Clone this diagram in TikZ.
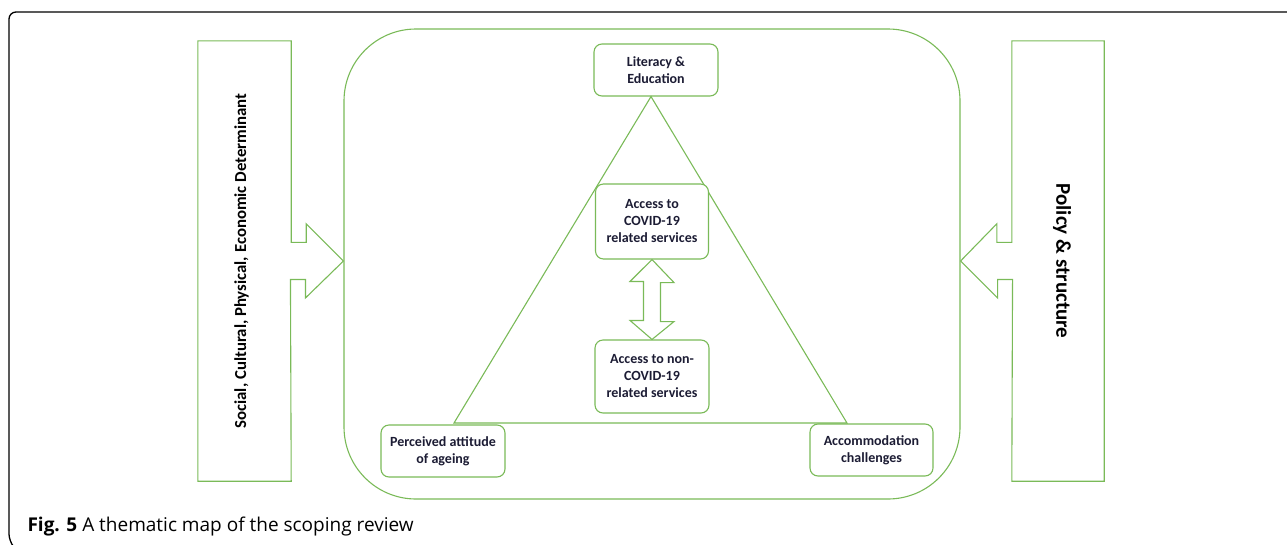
\documentclass[tikz,border=0pt]{standalone}
\usepackage{fontspec}
\setmainfont{Carlito}
\newfontfamily\captionfont{Open Sans}
\definecolor{mapgreen}{RGB}{122,186,88}
\definecolor{labelnavy}{RGB}{28,28,52}

\begin{document}
\begin{tikzpicture}[
  x=1pt, y=-1pt, % pixel grid, y grows downwards
  every node/.style={text=labelnavy, font=\bfseries\fontsize{14}{17}\selectfont},
  theme/.style={rectangle, rounded corners=8pt, draw=mapgreen, line width=1.1pt, fill=white, align=center, inner sep=0pt, minimum width=124pt, minimum height=52pt}, % small theme boxes
  frame/.style={draw=mapgreen, line width=1.1pt}, % green outlines
  side/.style={text=black, font=\bfseries\fontsize{16.8}{20}\selectfont} % vertical labels
]
\useasboundingbox (0,0) rectangle (1287,544);

% Black panel border
\draw[line width=1.3pt, rounded corners=7pt] (1295,12) -- (9,12) -- (9,541) -- (18,552);

% Central rounded panel
\node[frame, rounded corners=72pt, minimum width=616pt, minimum height=470pt] (hub) at (652,264) {};

% Triangle of themes
\coordinate (baseL) at (454,423);
\coordinate (baseR) at (847,423);
\node[theme] (lit) at (656,70) {Literacy \&\\Education};
\draw[frame] ([xshift=-5pt]lit.south) -- (baseL) -- (baseR) -- cycle;

% Corner themes
\node[theme] (att) at (443,451) {Perceived attitude\\of ageing};
\node[theme, minimum width=123pt] (acc) at (871.5,450) {Accommodation\\challenges};

% Access boxes
\node[theme, minimum width=113pt, minimum height=75pt] (cov) at (652,221.5) {Access to\\COVID-19\\related services};
\node[theme, minimum width=114pt, minimum height=73pt] (noncov) at (652,376.5) {Access to non-\\COVID-19\\related services};

% Double block arrow between access boxes
\draw[frame] (cov.south) -- ++(22,23) -- ++(-13.5,0) -- ++(0,39) -- ++(13.5,0)
  -- (noncov.north) -- ++(-22,-19) -- ++(13.5,0) -- ++(0,-39) -- ++(-13.5,0) -- cycle;

% Left determinant box with block arrow
\node[minimum width=93pt, minimum height=440pt] (social) at (244.5,261) {};
\draw[frame] (social.north west) -- (social.north east) -- ++(0,201.5) -- ++(15,0) -- ++(0,-18.5)
  -- (hub.west |- social.east) -- ++(-38,37) -- ++(0,-18.5) -- ++(-15,0)
  -- (social.south east) -- (social.south west) -- cycle;
\node[side, rotate=90] at ([xshift=-3pt]social.center) {Social, Cultural, Physical, Economic Determinant};

% Right policy box with block arrow
\node[minimum width=92pt, minimum height=440pt] (policy) at (1058,261) {};
\draw[frame] (policy.north west) -- ++(0,201.5) -- ++(-15,0) -- ++(0,-18.5)
  -- (hub.east |- policy.west) -- ++(37,37) -- ++(0,-18.5) -- ++(15,0)
  -- (policy.south west) -- (policy.south east) -- (policy.north east) -- cycle;
\node[side, rotate=-90, font=\bfseries\fontsize{21}{25}\selectfont] at ([xshift=4pt]policy.center) {Policy \& structure};

% Caption
\node[anchor=base west, text=black, font=\captionfont\fontsize{19}{22}\selectfont] (caption) at (24,531)
  {\textbf{Fig. 5} A thematic map of the scoping review};
\end{tikzpicture}
\end{document}
